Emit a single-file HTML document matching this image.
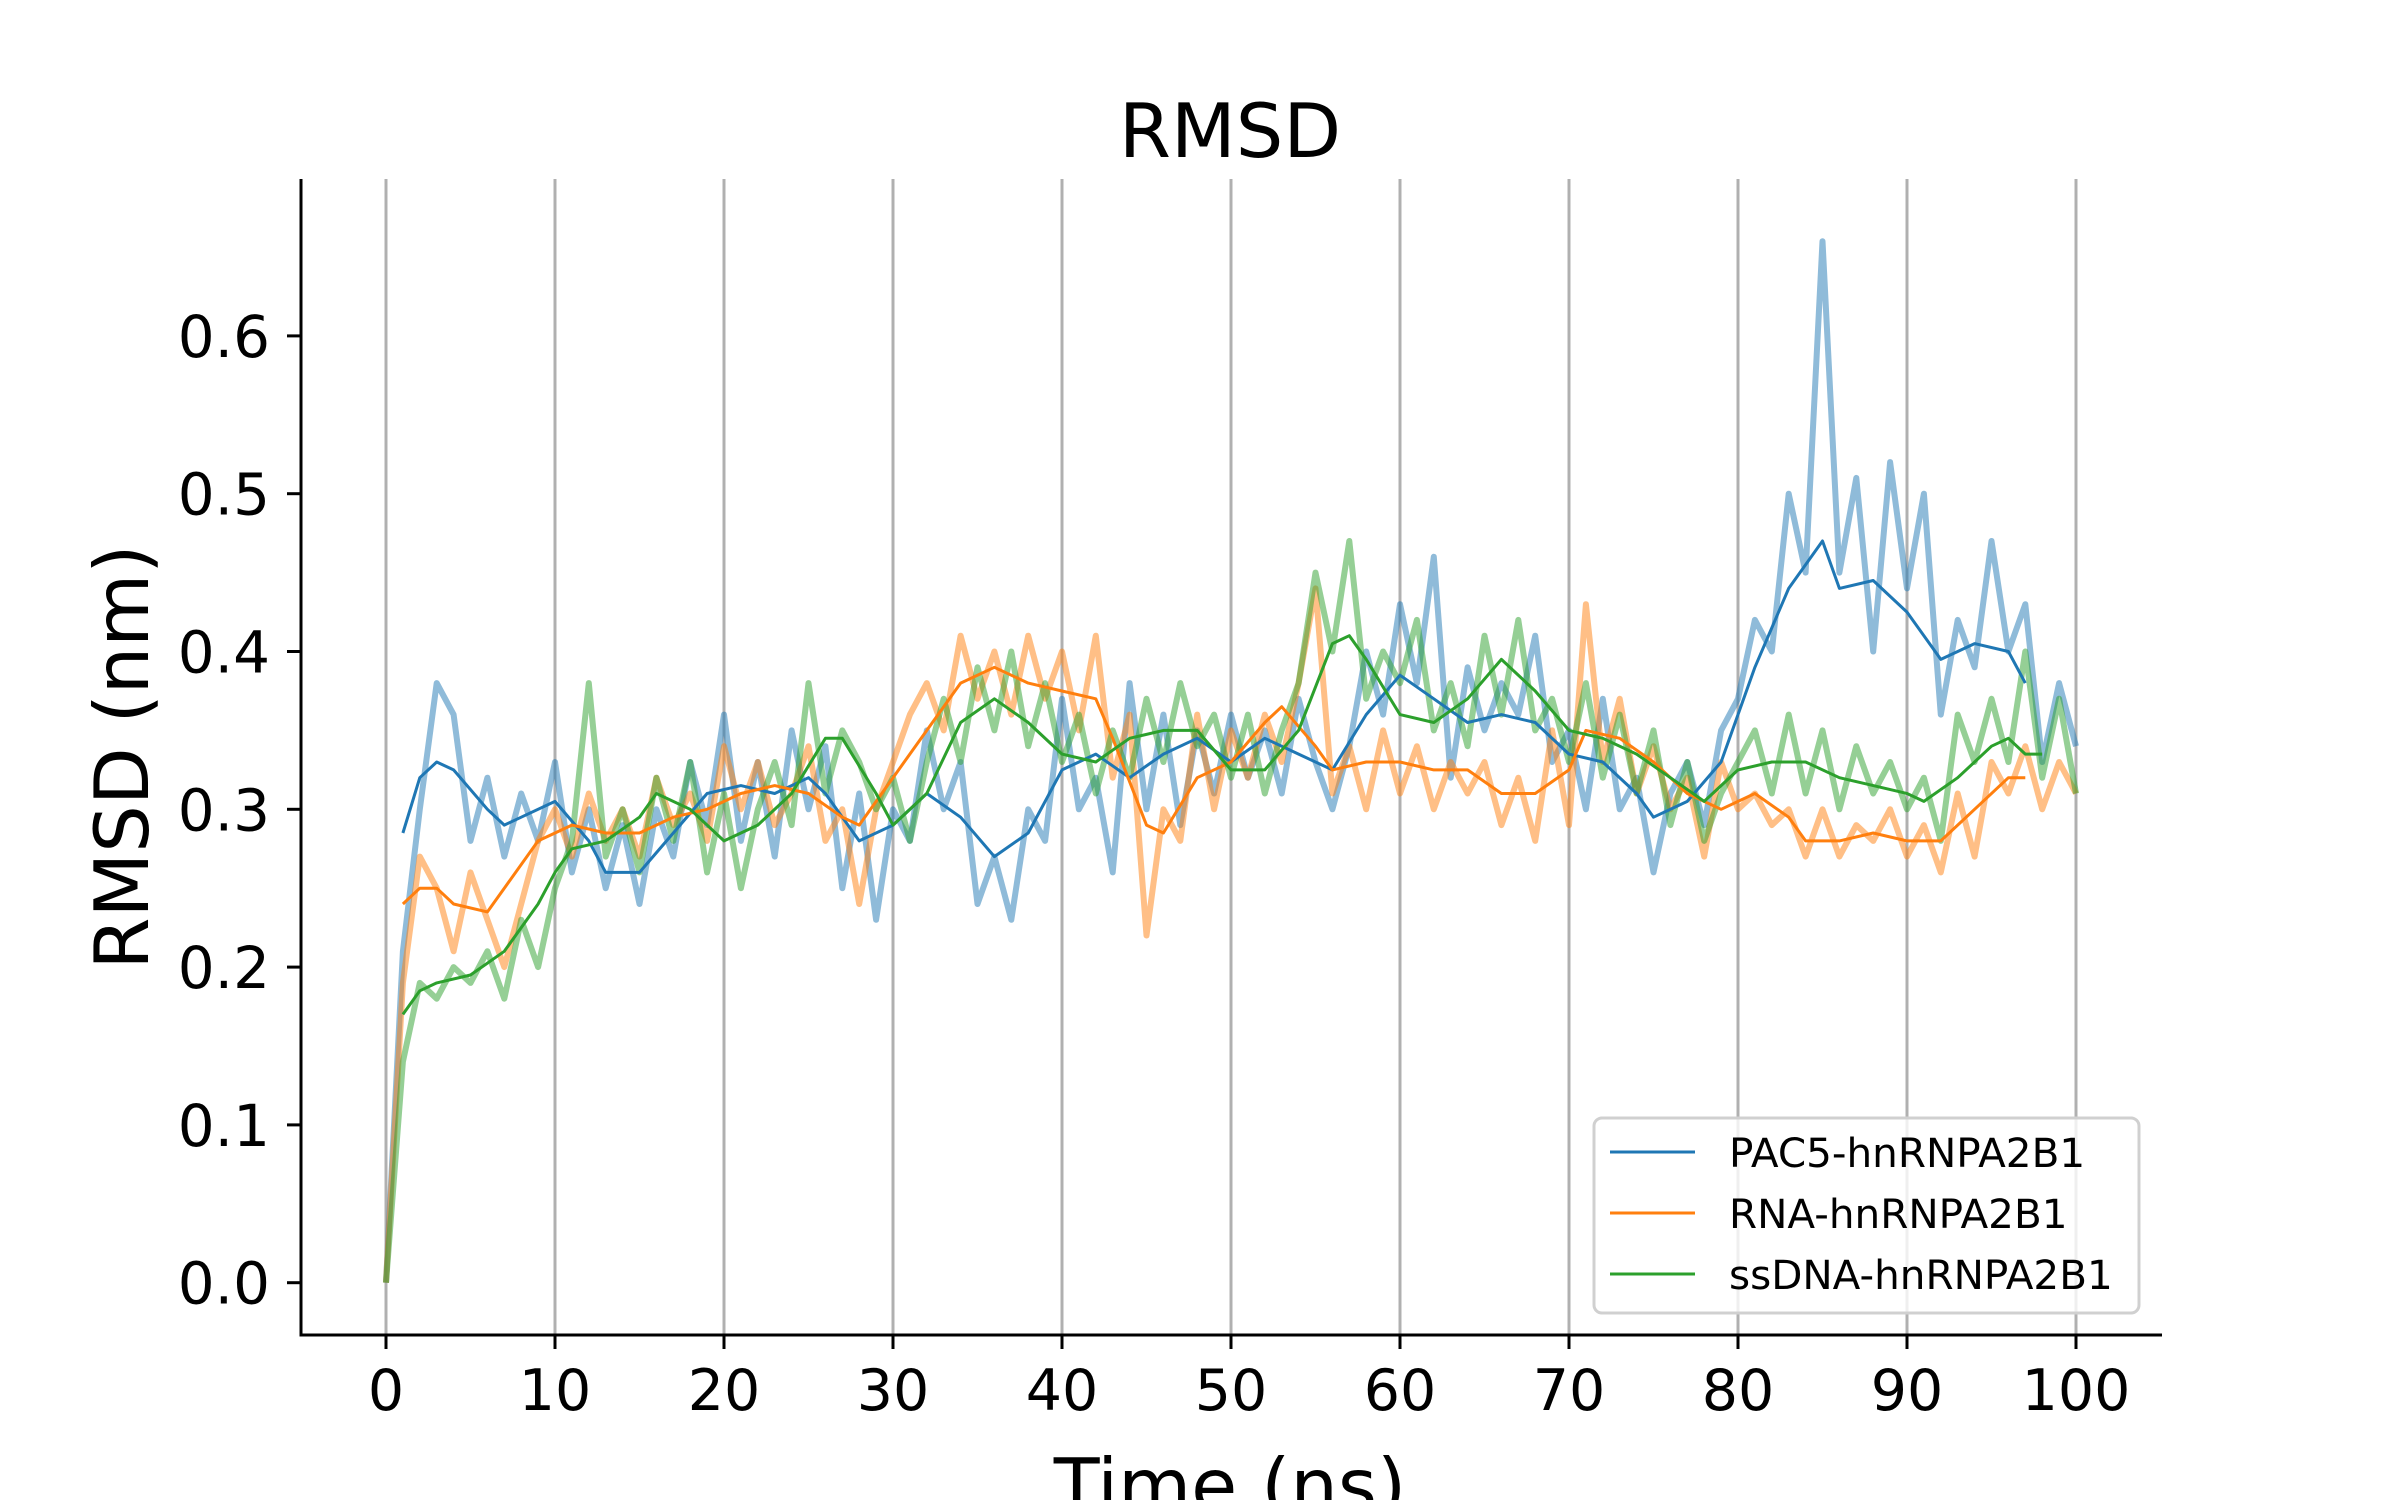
<!DOCTYPE html>
<html><head><meta charset="utf-8"><style>
html,body{margin:0;padding:0;background:#fff;}
svg{display:block;}
text{font-family:"DejaVu Sans","Liberation Sans",sans-serif;fill:#000;}
</style></head><body>
<svg id="chart" width="2400" height="1500" viewBox="0 0 2400 1500" xmlns="http://www.w3.org/2000/svg">
<rect width="2400" height="1500" fill="#fff"/>
<g id="grid"></g>
<g id="series"></g>
<g id="axes"></g>
<text x="1230" y="157" font-size="75" text-anchor="middle">RMSD</text>
<text x="1230" y="1512" font-size="75" text-anchor="middle">Time (ns)</text>
<text transform="translate(148,757) rotate(-90)" font-size="75" text-anchor="middle">RMSD (nm)</text>
<g id="legend"></g>
</svg>
<script>
const xTicks = [0,10,20,30,40,50,60,70,80,90,100];
const yTicks = [0.0,0.1,0.2,0.3,0.4,0.5,0.6];
const yTickLabels = ["0.0","0.1","0.2","0.3","0.4","0.5","0.6"];
const seriesNames = ["PAC5-hnRNPA2B1","RNA-hnRNPA2B1","ssDNA-hnRNPA2B1"];
const pacRaw = [0.00,0.21,0.30,0.38,0.36,0.28,0.32,0.27,0.31,0.28,0.33,0.26,0.30,0.25,0.29,0.24,0.30,0.27,0.33,0.29,0.36,0.28,0.33,0.27,0.35,0.30,0.34,0.25,0.31,0.23,0.30,0.28,0.35,0.30,0.33,0.24,0.27,0.23,0.30,0.28,0.37,0.30,0.32,0.26,0.38,0.30,0.36,0.29,0.35,0.31,0.36,0.32,0.35,0.31,0.37,0.33,0.30,0.34,0.40,0.36,0.43,0.38,0.46,0.32,0.39,0.35,0.38,0.36,0.41,0.33,0.35,0.30,0.37,0.30,0.32,0.26,0.31,0.33,0.29,0.35,0.37,0.42,0.40,0.50,0.45,0.66,0.45,0.51,0.40,0.52,0.44,0.50,0.36,0.42,0.39,0.47,0.40,0.43,0.33,0.38,0.34];
const rnaRaw = [0.00,0.19,0.27,0.25,0.21,0.26,0.23,0.20,0.24,0.28,0.30,0.27,0.31,0.28,0.30,0.27,0.32,0.29,0.31,0.28,0.34,0.30,0.33,0.29,0.31,0.34,0.28,0.30,0.24,0.30,0.33,0.36,0.38,0.35,0.41,0.37,0.40,0.36,0.41,0.37,0.40,0.35,0.41,0.32,0.36,0.22,0.30,0.28,0.36,0.30,0.35,0.32,0.36,0.33,0.38,0.44,0.31,0.34,0.30,0.35,0.31,0.34,0.30,0.33,0.31,0.33,0.29,0.32,0.28,0.35,0.29,0.43,0.33,0.37,0.31,0.34,0.30,0.32,0.27,0.33,0.30,0.31,0.29,0.30,0.27,0.30,0.27,0.29,0.28,0.30,0.27,0.29,0.26,0.31,0.27,0.33,0.31,0.34,0.30,0.33,0.31];
const dnaRaw = [0.00,0.14,0.19,0.18,0.20,0.19,0.21,0.18,0.23,0.20,0.25,0.28,0.38,0.27,0.30,0.26,0.32,0.28,0.33,0.26,0.31,0.25,0.30,0.33,0.29,0.38,0.31,0.35,0.33,0.30,0.32,0.28,0.33,0.37,0.33,0.39,0.35,0.40,0.34,0.38,0.33,0.36,0.31,0.35,0.32,0.37,0.33,0.38,0.34,0.36,0.32,0.36,0.31,0.35,0.38,0.45,0.40,0.47,0.37,0.40,0.38,0.42,0.35,0.38,0.34,0.41,0.36,0.42,0.35,0.37,0.33,0.38,0.32,0.36,0.31,0.35,0.29,0.33,0.28,0.31,0.33,0.35,0.31,0.36,0.31,0.35,0.30,0.34,0.31,0.33,0.30,0.32,0.28,0.36,0.33,0.37,0.33,0.40,0.32,0.37,0.31];
const pacSmoothT = [1,2,3,4,6,7,8,10,12,13,15,17,19,21,23,25,26,28,30,32,34,36,38,40,42,44,46,48,50,52,54,56,58,60,62,64,66,68,70,72,74,75,77,79,81,83,85,86,88,90,92,94,96,97];
const pacSmooth = [0.285,0.32,0.33,0.325,0.30,0.29,0.295,0.305,0.28,0.26,0.26,0.285,0.31,0.315,0.31,0.32,0.31,0.28,0.29,0.31,0.295,0.27,0.285,0.325,0.335,0.32,0.335,0.345,0.33,0.345,0.335,0.325,0.36,0.385,0.37,0.355,0.36,0.355,0.335,0.33,0.31,0.295,0.305,0.33,0.39,0.44,0.47,0.44,0.445,0.425,0.395,0.405,0.40,0.38];
const rnaSmoothT = [1,2,3,4,6,7,9,11,13,15,17,19,21,23,25,27,28,30,32,34,36,38,40,42,43,45,46,48,50,52,53,55,56,58,60,62,64,66,68,70,71,73,75,77,79,81,83,84,86,88,90,92,94,96,97];
const rnaSmooth = [0.24,0.25,0.25,0.24,0.235,0.25,0.28,0.29,0.285,0.285,0.295,0.30,0.31,0.315,0.31,0.295,0.29,0.32,0.35,0.38,0.39,0.38,0.375,0.37,0.345,0.29,0.285,0.32,0.33,0.355,0.365,0.34,0.325,0.33,0.33,0.325,0.325,0.31,0.31,0.325,0.35,0.345,0.33,0.31,0.30,0.31,0.295,0.28,0.28,0.285,0.28,0.28,0.30,0.32,0.32];
const dnaSmoothT = [1,2,3,5,7,9,10,11,13,15,16,18,20,22,24,26,27,29,30,32,34,36,38,40,42,44,46,48,50,52,54,56,57,58,60,62,64,66,68,70,72,74,76,78,80,82,84,86,88,90,91,93,95,96,97,98];
const dnaSmooth = [0.17,0.185,0.19,0.195,0.21,0.24,0.26,0.275,0.28,0.295,0.31,0.30,0.28,0.29,0.31,0.345,0.345,0.31,0.29,0.31,0.355,0.37,0.355,0.335,0.33,0.345,0.35,0.35,0.325,0.325,0.35,0.405,0.41,0.395,0.36,0.355,0.37,0.395,0.375,0.35,0.345,0.335,0.32,0.305,0.325,0.33,0.33,0.32,0.315,0.31,0.305,0.32,0.34,0.345,0.335,0.335];

const colors = ["#1f77b4","#ff7f0e","#2ca02c"];
const NS="http://www.w3.org/2000/svg";
const X0=386, XS=16.9, Y0=1282.7, YS=1578;
function xScale(t){return X0+t*XS;}
function yScale(v){return Y0-v*YS;}
function mk(tag,attrs,parent){const e=document.createElementNS(NS,tag);for(const k in attrs)e.setAttribute(k,attrs[k]);parent.appendChild(e);return e;}

const grid=document.getElementById('grid'), axes=document.getElementById('axes'), series=document.getElementById('series'), legend=document.getElementById('legend');
xTicks.forEach(t=>{
  const g=mk('line',{x1:xScale(t),x2:xScale(t),y1:179,y2:1335,stroke:'#b0b0b0','stroke-width':3},grid);
  
  
  const tk=mk('line',{x1:xScale(t),x2:xScale(t),y1:1335,y2:1349,stroke:'#000','stroke-width':3},axes);
  
  
  const lb=mk('text',{x:xScale(t),y:1410,'font-size':57,'text-anchor':'middle'},axes);
  lb.textContent=String(t);
  
  
});
yTicks.forEach((v,i)=>{
  const tk=mk('line',{x1:287,x2:301,y1:yScale(v),y2:yScale(v),stroke:'#000','stroke-width':3},axes);
  
  
  const lb=mk('text',{x:270,y:yScale(v)+21,'font-size':58,'text-anchor':'end'},axes);
  lb.textContent=yTickLabels[i];
  
  
});
const ls=mk('line',{x1:301,x2:301,y1:179,y2:1336.5,stroke:'#000','stroke-width':3},axes);


const bs=mk('line',{x1:299.5,x2:2162,y1:1335,y2:1335,stroke:'#000','stroke-width':3},axes);



const raws=[pacRaw,rnaRaw,dnaRaw];
const smT=[pacSmoothT,rnaSmoothT,dnaSmoothT];
const sm=[pacSmooth,rnaSmooth,dnaSmooth];
const keys=['pac5','rna','ssdna'];
raws.forEach((arr,i)=>{
  const pts=arr.map((v,t)=>xScale(t).toFixed(1)+','+yScale(v).toFixed(1)).join(' ');
  const p=mk('polyline',{points:pts,fill:'none',stroke:colors[i],'stroke-opacity':0.5,'stroke-width':6,'stroke-linejoin':'round'},series);
  
  
});
sm.forEach((arr,i)=>{
  const pts=arr.map((v,j)=>xScale(smT[i][j]).toFixed(1)+','+yScale(v).toFixed(1)).join(' ');
  const p=mk('polyline',{points:pts,fill:'none',stroke:colors[i],'stroke-width':3,'stroke-linejoin':'round'},series);
  
  
});

const box=mk('rect',{x:1594,y:1118,width:545,height:195,rx:8,fill:'#fff','fill-opacity':0.8,stroke:'#d0d0d0','stroke-width':3},legend);


seriesNames.forEach((n,i)=>{
  const y=1152+i*61;
  const l=mk('line',{x1:1610,x2:1695,y1:y,y2:y,stroke:colors[i],'stroke-width':3},legend);
  
  
  const t=mk('text',{x:1729,y:y+15,'font-size':40.5},legend);
  t.textContent=n;
  
  
});
</script>
</body></html>
